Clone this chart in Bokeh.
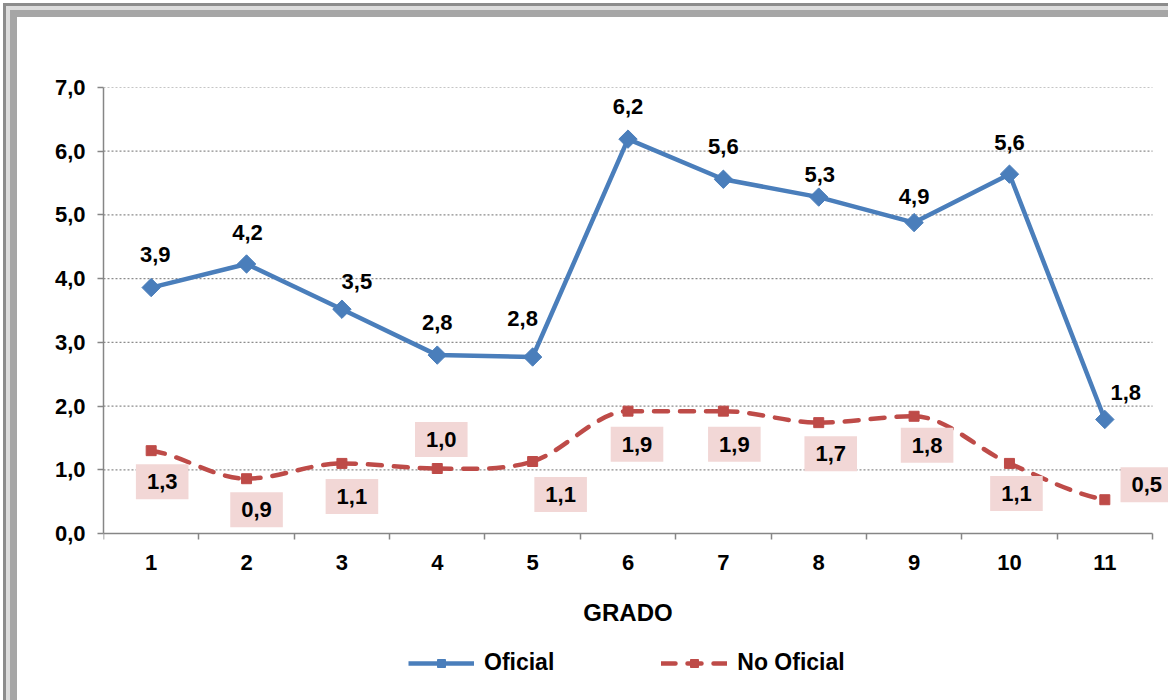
import numpy as np
from bokeh.plotting import figure
from bokeh.models import (Range1d, FixedTicker, Label, Legend, LegendItem,
                          ColumnDataSource, InlineStyleSheet)
from bokeh.embed import file_html
from bokeh.resources import INLINE

# ---------------- data ----------------
grados = ["1", "2", "3", "4", "5", "6", "7", "8", "9", "10", "11"]
oficial = [3.86, 4.23, 3.52, 2.80, 2.77, 6.19, 5.56, 5.28, 4.88, 5.64, 1.79]
no_oficial = [1.30, 0.86, 1.10, 1.02, 1.13, 1.92, 1.92, 1.74, 1.84, 1.10, 0.53]
series_names = ["Oficial", "No Oficial"]
y_ticks = [0, 1, 2, 3, 4, 5, 6, 7]
y_tick_labels = ["0,0", "1,0", "2,0", "3,0", "4,0", "5,0", "6,0", "7,0"]
x_title = "GRADO"

# ---------------- style / layout ----------------
BLUE = "#4A7EBB"
RED = "#BE4B48"
PINK = "#F2D7D6"
AXIS = "#868686"
FONT = "Liberation Sans"
FS = "22px"

W, H = 1168, 700
LEFT, TOP = 103, 87
PLOT_W, PLOT_H = 1049, 446          # size of the 0..7 / 0.5..11.5 area
n = len(grados)
ppx = PLOT_W / n                     # px per x unit
ppy = PLOT_H / (y_ticks[-1] - y_ticks[0])
x_lo, x_hi = 0.5, n + 0.5
x_hi_frame = x_hi + (W - LEFT - PLOT_W) / ppx
y_lo_frame = y_ticks[0] - (H - TOP - PLOT_H) / ppy

xs = list(range(1, n + 1))

frame_css = InlineStyleSheet(css=""":host {
  box-shadow: inset 3px 3px 0 0 #FFFFFF, inset 6px 6px 0 0 #8C8C8C,
              inset 10px 10px 0 0 #DCDCDC, inset 17px 17px 0 0 #A6A6A6;
}""")

p = figure(width=W, height=H, x_range=Range1d(x_lo, x_hi_frame),
           y_range=Range1d(y_lo_frame, y_ticks[-1]), output_backend="svg",
           toolbar_location=None, frame_width=W - LEFT, frame_height=H - TOP,
           min_border_left=LEFT, min_border_right=0, min_border_top=TOP,
           min_border_bottom=0, outline_line_color=None,
           background_fill_alpha=0, border_fill_alpha=0,
           stylesheets=[frame_css])

# x axis, drawn at y = 0 inside the frame
xa = p.xaxis[0]
xa.fixed_location = y_ticks[0]
xa.bounds = (x_lo, x_hi)
xa.ticker = FixedTicker(ticks=xs, minor_ticks=[x - 0.5 for x in xs] + [xs[-1] + 0.5])
xa.major_label_overrides = {x: g for x, g in zip(xs, grados)}
xa.major_tick_line_color = None
xa.major_tick_out = 6
xa.major_tick_in = 0
xa.minor_tick_line_color = AXIS
xa.minor_tick_line_width = 1.5
xa.minor_tick_out = 6
xa.minor_tick_in = 0
xa.axis_line_color = AXIS
xa.axis_line_width = 1.5
xa.major_label_text_font = FONT
xa.major_label_text_font_size = FS
xa.major_label_text_font_style = "bold"
xa.major_label_text_color = "black"
xa.major_label_standoff = 15
xa.axis_label = x_title
xa.axis_label_text_font = FONT
xa.axis_label_text_font_size = "24px"
xa.axis_label_text_font_style = "bold"
xa.axis_label_text_color = "black"
xa.axis_label_standoff = 26

ya = p.yaxis[0]
ya.bounds = (y_ticks[0], y_ticks[-1])
ya.ticker = FixedTicker(ticks=y_ticks, minor_ticks=[])
ya.major_label_overrides = {t: l for t, l in zip(y_ticks, y_tick_labels)}
ya.major_tick_line_color = AXIS
ya.major_tick_line_width = 1.5
ya.major_tick_out = 6
ya.major_tick_in = 0
ya.minor_tick_line_color = None
ya.axis_line_color = AXIS
ya.axis_line_width = 1.5
ya.major_label_text_font = FONT
ya.major_label_text_font_size = FS
ya.major_label_text_font_style = "bold"
ya.major_label_text_color = "black"
ya.major_label_standoff = 12

# horizontal dotted grid lines (only across the plotting area)
p.xgrid.grid_line_color = None
p.ygrid.grid_line_color = None
grid_y = y_ticks[1:]
p.segment(x0=[x_lo] * len(grid_y), x1=[x_hi] * len(grid_y), y0=grid_y, y1=grid_y,
          line_color="#8C8C8C", line_dash="2 2", line_width=1.2)

# ---------------- No Oficial (smoothed, dashed) ----------------
px = np.array(xs, dtype=float)
py = np.array(no_oficial, dtype=float)
d = np.diff(py)
m = np.zeros_like(py)
m[0], m[-1] = d[0] / 2, d[-1] / 2
for k in range(1, len(py) - 1):
    m[k] = 0.0 if d[k - 1] * d[k] <= 0 else (d[k - 1] + d[k]) / 2
bez = ColumnDataSource(dict(
    x0=px[:-1], y0=py[:-1], x1=px[1:], y1=py[1:],
    cx0=px[:-1] + 1 / 3, cy0=py[:-1] + m[:-1] / 3,
    cx1=px[1:] - 1 / 3, cy1=py[1:] - m[1:] / 3))
red_curve = p.bezier(x0="x0", y0="y0", x1="x1", y1="y1", cx0="cx0", cy0="cy0",
                     cx1="cx1", cy1="cy1", source=bez, line_color=RED,
                     line_width=4.5, line_dash="14 12", line_cap="round")
red_pts = p.scatter(x=xs, y=no_oficial, marker="square", size=10,
                    fill_color=RED, line_color=RED)

# ---------------- Oficial ----------------
blue_line = p.line(x=xs, y=oficial, line_color=BLUE, line_width=4.5,
                   line_join="round")
blue_pts = p.scatter(x=xs, y=oficial, marker="square", angle=np.pi / 4,
                     size=13, fill_color=BLUE, line_color=BLUE)

# ---------------- labels ----------------
def fmt(v):
    return f"{v:.1f}".replace(".", ",")

blue_off = [(4, 33), (1, 31), (15, 28), (0, 33), (-10, 39), (0, 33),
            (0, 33), (1, 23), (0, 26), (0, 32), (21, 27)]
red_off = [(11, -31), (10, -31), (10, -33), (4, 29), (28, -33), (9, -33),
           (11, -33), (12, -31), (13, -29), (7, -30), (42, 15)]

for x, v, (dx, dy) in zip(xs, oficial, blue_off):
    p.add_layout(Label(x=x, y=v, text=fmt(v), x_offset=dx, y_offset=dy,
                       text_align="center", text_baseline="middle",
                       text_font=FONT, text_font_size=FS,
                       text_font_style="bold", text_color="black"))

for x, v, (dx, dy) in zip(xs, no_oficial, red_off):
    p.add_layout(Label(x=x, y=v, text=fmt(v), x_offset=dx, y_offset=dy,
                       text_align="center", text_baseline="middle",
                       text_font=FONT, text_font_size=FS,
                       text_font_style="bold", text_color="black",
                       background_fill_color=PINK, padding=(11, 10)))

# ---------------- legend ----------------
legend = Legend(items=[LegendItem(label=series_names[0], renderers=[blue_line, blue_pts]),
                       LegendItem(label=series_names[1], renderers=[red_curve, red_pts])],
                orientation="horizontal", location=(408 - LEFT, 24),
                glyph_width=66, glyph_height=20, label_standoff=10, spacing=107,
                label_text_font=FONT, label_text_font_size="23px",
                label_text_font_style="bold", label_text_color="black",
                border_line_color=None, background_fill_alpha=0,
                padding=0, margin=0)
p.add_layout(legend, "center")

open("out.html", "w").write(file_html(p, INLINE))
